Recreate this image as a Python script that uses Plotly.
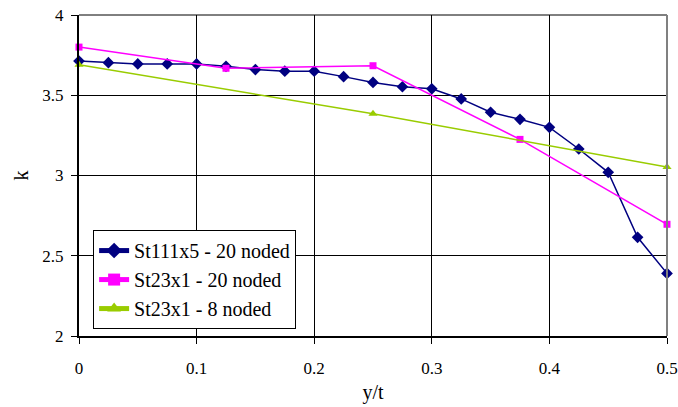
import plotly.graph_objects as go

x_blue = [0, 0.025, 0.05, 0.075, 0.1, 0.125, 0.15, 0.175, 0.2, 0.225, 0.25, 0.275,
          0.3, 0.325, 0.35, 0.375, 0.4, 0.425, 0.45, 0.475, 0.5]
k_blue = [3.713, 3.703, 3.695, 3.695, 3.695, 3.68, 3.66, 3.65, 3.65, 3.616, 3.58, 3.553,
          3.54, 3.477, 3.394, 3.35, 3.30, 3.165, 3.02, 2.615, 2.39]
x_pink = [0, 0.125, 0.25, 0.375, 0.5]
k_pink = [3.80, 3.668, 3.684, 3.225, 2.696]
x_green = [0, 0.25, 0.5]
k_green = [3.69, 3.385, 3.053]

x_ticks = [0, 0.1, 0.2, 0.3, 0.4, 0.5]
x_ticklabels = ["0", "0.1", "0.2", "0.3", "0.4", "0.5"]
k_ticks = [2, 2.5, 3, 3.5, 4]
k_ticklabels = ["2", "2.5", "3", "3.5", "4"]

names = ["St111x5 - 20 noded", "St23x1 - 20 noded", "St23x1 - 8 noded"]

FONT = "Liberation Serif"

fig = go.Figure()
fig.add_trace(go.Scatter(x=x_blue, y=k_blue, name=names[0], mode="lines+markers",
                         cliponaxis=False,
                         line=dict(color="#000080", width=1.5),
                         marker=dict(symbol="diamond", size=9, color="#000080")))
fig.add_trace(go.Scatter(x=x_pink, y=k_pink, name=names[1], mode="lines+markers",
                         cliponaxis=False,
                         line=dict(color="#FF00FF", width=1.5),
                         marker=dict(symbol="square", size=7, color="#FF00FF")))
fig.add_trace(go.Scatter(x=x_green, y=k_green, name=names[2], mode="lines+markers",
                         cliponaxis=False,
                         line=dict(color="#99CC00", width=1.5),
                         marker=dict(symbol="triangle-up", size=8, color="#99CC00")))

fig.update_layout(
    width=678, height=407,
    margin=dict(l=79, r=11, t=15, b=71, autoexpand=False),
    paper_bgcolor="white", plot_bgcolor="white",
    font=dict(family=FONT, size=17, color="black"),
    showlegend=True,
    legend=dict(x=0.024, y=0.33, xanchor="left", yanchor="top",
                bordercolor="black", borderwidth=1, bgcolor="white",
                font=dict(family=FONT, size=20), tracegroupgap=0,
                itemsizing="constant", itemwidth=30),
    xaxis=dict(range=[0, 0.5], tickvals=x_ticks, ticktext=x_ticklabels,
               showgrid=True, gridcolor="black", gridwidth=1,
               showline=True, linecolor="black", linewidth=2,
               ticks="outside", ticklen=6, tickcolor="black",
               ticklabelstandoff=10,
               zeroline=False, mirror=False,
               title=dict(text="y/t", font=dict(family=FONT, size=20), standoff=8)),
    yaxis=dict(range=[2, 4], tickvals=k_ticks, ticktext=k_ticklabels,
               showgrid=True, gridcolor="black", gridwidth=1,
               showline=True, linecolor="black", linewidth=2,
               ticks="outside", ticklen=6, tickcolor="black",
               ticklabelstandoff=4,
               zeroline=False,
               title=dict(text="k", font=dict(family=FONT, size=20), standoff=8)),
)
# top and right borders
fig.add_shape(type="line", xref="paper", yref="paper", x0=0, x1=1, y0=1, y1=1,
              line=dict(color="black", width=1))
fig.add_shape(type="line", xref="paper", yref="paper", x0=1, x1=1, y0=0, y1=1,
              line=dict(color="#808080", width=2))

fig.write_html("out.html")
